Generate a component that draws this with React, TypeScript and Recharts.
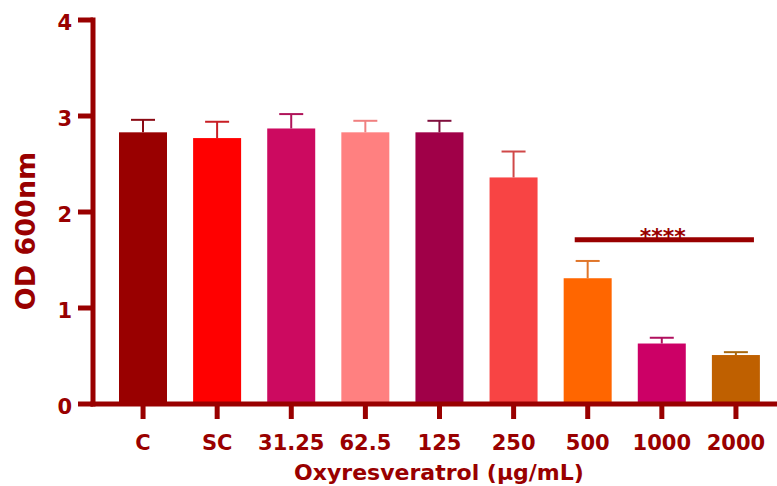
import React from 'react';
import { BarChart, Bar, XAxis, YAxis, ReferenceLine } from 'recharts';

const categories = ['C', 'SC', '31.25', '62.5', '125', '250', '500', '1000', '2000'];
const means = [2.83, 2.77, 2.87, 2.83, 2.83, 2.36, 1.31, 0.63, 0.51];
const sems = [0.13, 0.17, 0.15, 0.12, 0.12, 0.27, 0.18, 0.06, 0.03];
const yTicks = [0, 1, 2, 3, 4];
const sigY = 1.71;
const sigFrom = '500';
const sigTo = '2000';
const sigText = '****';

const barColors = ['#990000', '#FF0000', '#CC0A60', '#FF8080', '#A00048', '#F84444', '#FF6600', '#CC0066', '#BF6000'];
const errColors = ['#8B0A14', '#C81E24', '#B0145A', '#F08080', '#80103E', '#D04848', '#E0762A', '#B0105E', '#A8680E'];

const AXIS = '#990000';
const FONT = 'DejaVu Sans';

const data = categories.map((c, i) => ({ name: c, value: means[i], err: sems[i] }));

const BarWithErr = (props: any) => {
  const { x, y, width, height, index, payload } = props;
  const errPx = payload.value ? (height * payload.err) / payload.value : 0;
  const cx = x + width / 2;
  const top = y - errPx;
  return (
    <g>
      <rect x={x} y={y} width={width} height={height} fill={barColors[index]} />
      <line x1={cx} y1={y} x2={cx} y2={top} stroke={errColors[index]} strokeWidth={2} />
      <line x1={cx - 12} y1={top} x2={cx + 12} y2={top} stroke={errColors[index]} strokeWidth={2} />
    </g>
  );
};

const XTick = (props: any) => {
  const { x, y, payload } = props;
  return (
    <text x={x} y={y} dy={31} textAnchor="middle" fill={AXIS} fontSize={21} fontWeight="bold" fontFamily={FONT}>
      {payload.value}
    </text>
  );
};

const YTick = (props: any) => {
  const { x, y, payload } = props;
  return (
    <text x={x - 6} y={y} dy={10} textAnchor="end" fill={AXIS} fontSize={21} fontWeight="bold" fontFamily={FONT}>
      {payload.value}
    </text>
  );
};

const SigShape = (props: any) => {
  const { x1, y1, x2 } = props;
  const mid = (x1 + x2) / 2;
  return (
    <g>
      <line x1={x1 - 13} y1={y1} x2={x2 + 18} y2={y1} stroke={AXIS} strokeWidth={5} />
      <text x={mid + 1} y={y1 + 4} textAnchor="middle" fill={AXIS} fontSize={22} fontWeight="bold" fontFamily={FONT}>
        {sigText}
      </text>
    </g>
  );
};

const XLabel = () => (
  <text x={439} y={480} textAnchor="middle" fill={AXIS} fontSize={22} fontWeight="bold" fontFamily={FONT}>
    Oxyresveratrol (µg/mL)
  </text>
);

const YLabel = () => (
  <text x={35} y={231} transform="rotate(-90, 35, 231)" textAnchor="middle" fill={AXIS} fontSize={27} fontWeight="bold" fontFamily={FONT}>
    OD 600nm
  </text>
);

export default function App() {
  return (
    <div style={{ position: 'absolute', left: 0, top: 0, background: '#fff' }}>
      <BarChart width={777} height={486} data={data} margin={{ top: 20, right: 0, bottom: 0, left: 0 }}>
        <XAxis
          dataKey="name"
          height={82}
          padding={{ left: 13, right: 4 }}
          axisLine={{ stroke: AXIS, strokeWidth: 5, strokeLinecap: 'square' }}
          tickLine={{ stroke: AXIS, strokeWidth: 5 }}
          tickSize={15}
          tickMargin={0}
          tick={<XTick />}
          interval={0}
          label={<XLabel />}
        />
        <YAxis
          width={93}
          domain={[0, 4]}
          ticks={yTicks}
          interval={0}
          axisLine={{ stroke: AXIS, strokeWidth: 5, strokeLinecap: 'square' }}
          tickLine={{ stroke: AXIS, strokeWidth: 5 }}
          tickSize={15}
          tickMargin={0}
          tick={<YTick />}
          label={<YLabel />}
        />
        <Bar dataKey="value" barSize={48} shape={<BarWithErr />} isAnimationActive={false} />
        <ReferenceLine
          segment={[{ x: sigFrom, y: sigY }, { x: sigTo, y: sigY }]}
          shape={(p: any) => <SigShape {...p} />}
          ifOverflow="visible"
        />
      </BarChart>
    </div>
  );
}
